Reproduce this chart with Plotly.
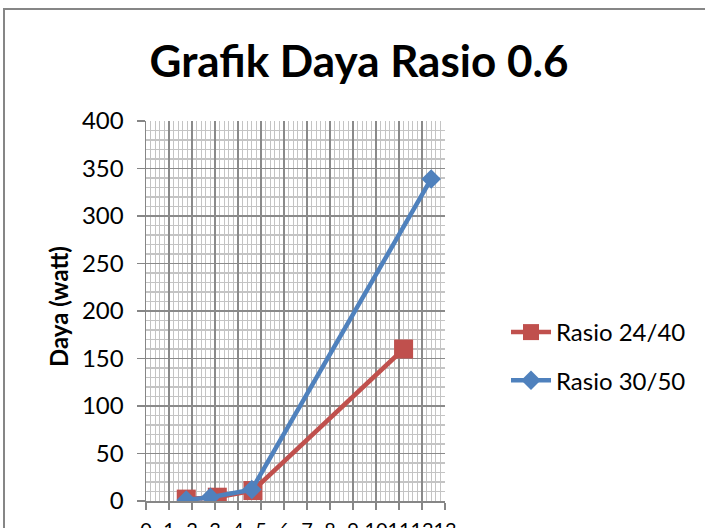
import plotly.graph_objects as go

# ---- data ----
x_ticks = list(range(0, 14))
x_labels = [str(v) for v in x_ticks]
y_ticks = [0, 50, 100, 150, 200, 250, 300, 350, 400]

red_name = "Rasio 24/40"
red_x = [1.75, 3.1, 4.65, 11.2]
red_y = [2, 4, 11, 160]

blue_name = "Rasio 30/50"
blue_x = [1.75, 2.8, 4.6, 12.4]
blue_y = [1, 4, 12, 339]

title_text = "Grafik Daya Rasio 0.6"
y_title = "Daya (watt)"

# ---- figure ----
W, H = 705, 528
L, R, T, B = 146, 260, 121, 27
pw, ph = W - L - R, H - T - B
FONT = "Lato"

fig = go.Figure()
fig.add_trace(go.Scatter(
    x=red_x, y=red_y, name=red_name, mode="lines+markers", legendgroup="a",
    line=dict(color="#C0504D", width=4.5),
    marker=dict(symbol="square", size=19, color="#C0504D"),
))
fig.add_trace(go.Scatter(
    x=blue_x, y=blue_y, name=blue_name, mode="lines+markers", legendgroup="b",
    line=dict(color="#4F81BD", width=4.5),
    marker=dict(symbol="diamond", size=15, color="#4F81BD"),
))

def px_x(p):
    return (p - L) / pw

def px_y(p):
    return (H - B - p) / ph

fig.add_shape(type="rect", xref="paper", yref="paper",
              x0=px_x(4), x1=px_x(715), y0=px_y(540), y1=px_y(9),
              line=dict(color="#868686", width=2), fillcolor="rgba(0,0,0,0)",
              layer="below")

fig.add_annotation(text="<b>" + y_title + "</b>", xref="paper", yref="paper",
                   x=px_x(58), y=px_y(306), xanchor="center", yanchor="middle",
                   textangle=-90, showarrow=False,
                   font=dict(family=FONT, size=24, color="black"))

fig.update_layout(
    width=W, height=H,
    margin=dict(l=L, r=R, t=T, b=B, pad=0, autoexpand=False),
    paper_bgcolor="white", plot_bgcolor="white",
    font=dict(family=FONT, color="black", size=24),
    title=dict(text="<b>" + title_text + "</b>", x=359 / W, xref="container",
               xanchor="center", y=1 - 62 / H, yref="container", yanchor="middle",
               font=dict(family=FONT, size=44, color="black"), automargin=False),
    showlegend=True,
    legend=dict(x=px_x(506), y=px_y(310), xanchor="left", yanchor="top",
                xref="paper", yref="paper", traceorder="grouped",
                tracegroupgap=14, font=dict(family=FONT, size=24, color="black"),
                bgcolor="rgba(0,0,0,0)", itemwidth=40),
)

fig.update_xaxes(
    range=[0, 13], tickmode="array", tickvals=x_ticks, ticktext=x_labels,
    tickangle=0, automargin=False,
    showline=True, linecolor="#868686", linewidth=1.5,
    ticks="outside", ticklen=7, tickcolor="#868686", tickwidth=1.5,
    showgrid=True, gridcolor="#8a8a8a", gridwidth=1.5,
    minor=dict(dtick=0.2, showgrid=True, gridcolor="#c4c4c4", gridwidth=1.2),
    tickfont=dict(family=FONT, size=20), ticklabelstandoff=3,
    zeroline=False, fixedrange=True,
)
fig.update_yaxes(
    range=[0, 400], tickmode="array", tickvals=y_ticks, automargin=False,
    showline=True, linecolor="#868686", linewidth=1.5,
    ticks="outside", ticklen=8, tickcolor="#868686", tickwidth=1.5,
    showgrid=True, gridcolor="#8a8a8a", gridwidth=1.5,
    minor=dict(dtick=10, showgrid=True, gridcolor="#c4c4c4", gridwidth=1.2),
    tickfont=dict(family=FONT, size=24), ticklabelstandoff=8,
    zeroline=False, fixedrange=True,
)

fig.write_html("out.html", config={"displayModeBar": False, "staticPlot": True},
               post_script="document.body.style.margin='0';")
